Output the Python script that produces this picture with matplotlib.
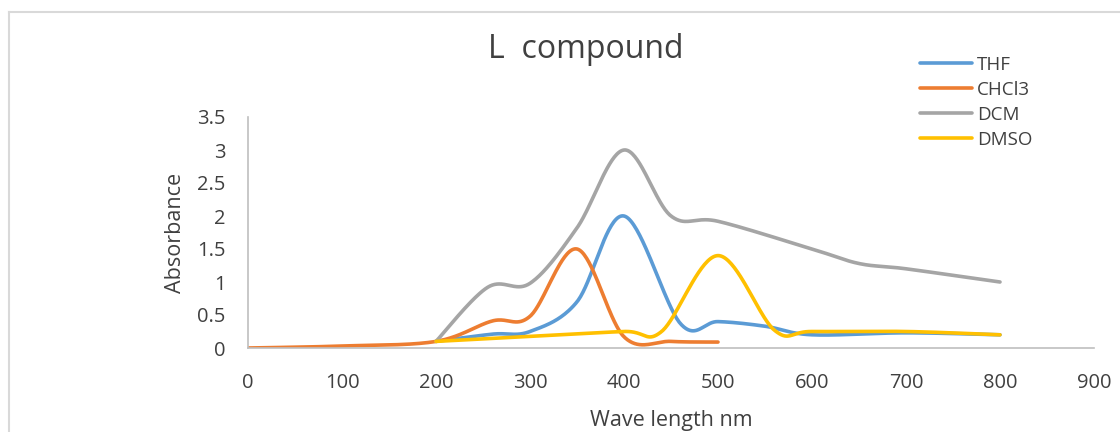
import numpy as np
import matplotlib
matplotlib.use('Agg')
import matplotlib.pyplot as plt
from matplotlib.lines import Line2D

plt.rcParams['font.family'] = ['Open Sans', 'DejaVu Sans']

# --- datos ---
thf_x = [200, 260, 300, 350, 400, 460, 500, 550, 600, 700, 800]
thf_y = [0.1, 0.21, 0.25, 0.7, 2.0, 0.37, 0.4, 0.33, 0.2, 0.23, 0.2]

chcl3_x = [0, 100, 200, 260, 300, 350, 400, 450, 500]
chcl3_y = [0, 0.03, 0.1, 0.41, 0.48, 1.5, 0.17, 0.1, 0.09]

dcm_x = [200, 255, 300, 350, 400, 450, 500, 600, 650, 700, 800]
dcm_y = [0.1, 0.92, 0.98, 1.82, 3.0, 2.0, 1.92, 1.5, 1.28, 1.2, 1.0]

dmso_x = [200, 300, 400, 440, 500, 560, 600, 700, 800]
dmso_y = [0.1, 0.175, 0.25, 0.25, 1.4, 0.27, 0.25, 0.25, 0.2]

series = [
    ('THF', thf_x, thf_y, '#5B9BD5'),
    ('CHCl3', chcl3_x, chcl3_y, '#ED7D31'),
    ('DCM', dcm_x, dcm_y, '#A5A5A5'),
    ('DMSO', dmso_x, dmso_y, '#FFC000'),
]


def smooth(xs, ys, n=40):
    """Curva suavizada tipo Excel (Bezier / Catmull-Rom)."""
    p = np.column_stack([xs, ys]).astype(float)
    out = []
    for i in range(len(p) - 1):
        p0 = p[i - 1] if i > 0 else p[i]
        p1 = p[i]
        p2 = p[i + 1]
        p3 = p[i + 2] if i + 2 < len(p) else p[i + 1]
        c1 = p1 + (p2 - p0) / 6
        c2 = p2 - (p3 - p1) / 6
        t = np.linspace(0, 1, n)[:, None]
        seg = ((1 - t) ** 3) * p1 + 3 * ((1 - t) ** 2) * t * c1 + 3 * (1 - t) * t ** 2 * c2 + t ** 3 * p2
        out.append(seg if i == 0 else seg[1:])
    seg = np.vstack(out)
    return seg[:, 0], seg[:, 1]


fig = plt.figure(figsize=(11.2, 4.32), dpi=100)
ax = fig.add_axes([248 / 1120, 1 - 348 / 432, 846 / 1120, 231 / 432])

# marco del área del gráfico
fig.add_artist(Line2D([9 / 1120, 1], [1 - 12 / 432] * 2, color='#D9D9D9', lw=1.5))
fig.add_artist(Line2D([9 / 1120] * 2, [0, 1 - 12 / 432], color='#D9D9D9', lw=1.5))

handles = []
for name, xs, ys, col in series:
    sx, sy = smooth(xs, ys)
    h, = ax.plot(sx, sy, color=col, lw=2.6, solid_capstyle='round', label=name)
    handles.append(h)

ax.set_xlim(0, 900)
ax.set_ylim(0, 3.5)
ax.set_xticks(np.arange(0, 901, 100))
ax.set_yticks(np.arange(0, 3.51, 0.5))
ax.set_yticklabels(['0', '0.5', '1', '1.5', '2', '2.5', '3', '3.5'])

for s in ['top', 'right']:
    ax.spines[s].set_visible(False)
for s in ['left', 'bottom']:
    ax.spines[s].set_color('#BFBFBF')
    ax.spines[s].set_linewidth(1.2)
ax.tick_params(length=0, labelsize=14.5, colors='#404040')
ax.tick_params(axis='y', pad=16)
ax.tick_params(axis='x', pad=18)

ax.set_xlabel('Wave length nm', fontsize=15.5, color='#404040', labelpad=12)
ax.set_ylabel('Absorbance', fontsize=15.5, color='#404040', labelpad=8)

fig.text(586 / 1120, 1 - 49 / 432, 'L  compound', fontsize=23, color='#404040',
         ha='center', va='center')

fig.legend(handles=handles, loc='upper left', bbox_to_anchor=(912 / 1120, 1 - 48 / 432),
           frameon=False, fontsize=13.5, handlelength=2.8, handletextpad=0.25,
           labelspacing=0.38, labelcolor='#404040', borderaxespad=0)

fig.savefig('out.png', dpi=100)
